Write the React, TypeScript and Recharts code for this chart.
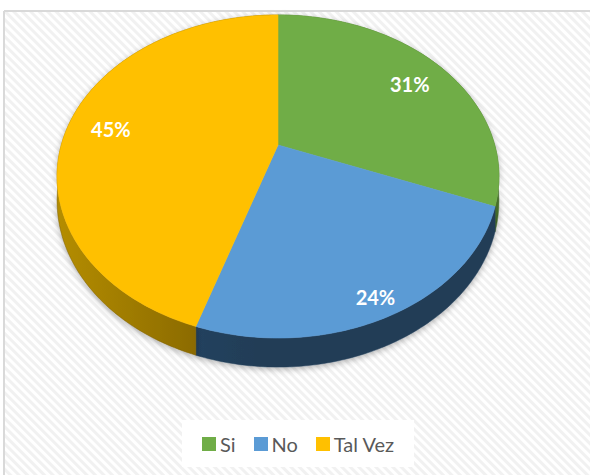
import React from 'react';
import { PieChart, Pie, Legend } from 'recharts';

const categories = ['Si', 'No', 'Tal Vez'];
const values = [31, 24, 45];
const topColors = ['#70ad47', '#5b9bd5', '#ffc000'];
// [light, dark] for the rim of each slice
const sideColors = [
    ['#5a8a3a', '#466e2c'],
    ['#2c4d6e', '#213d57'],
    ['#b38c00', '#7a5c00'],
];

const data = categories.map((name, i) => ({ name, value: values[i] }));

const W = 590;
const H = 475;
const CX = 278;
const CY = 145;
const R = 216.7;
const TILT = 0.717; // vertical squash of the disc
const PERSP = -0.195; // near side gets bigger
const DEPTH = 0.108; // rim thickness relative to radius
const FONT = 'Lato, "Noto Sans", sans-serif';

function project(cx: number, cy: number, r: number, angleDeg: number, frac = 1) {
    const a = (angleDeg * Math.PI) / 180;
    const u = Math.cos(a) * frac;
    const v = -Math.sin(a) * frac;
    const d = 1 + PERSP * v;
    return { x: cx + (r * u) / d, y: cy + (r * TILT * v) / d, h: (r * DEPTH) / d, v };
}

function arcPoints(cx: number, cy: number, r: number, start: number, end: number) {
    const n = Math.max(2, Math.ceil(Math.abs(end - start)));
    const pts = [];
    for (let i = 0; i <= n; i++) {
        pts.push(project(cx, cy, r, start + ((end - start) * i) / n));
    }
    return pts;
}

function sliceIndex(props: any) {
    const name = props.payload?.name ?? props.name;
    return Math.max(0, categories.indexOf(name));
}

function SideShape(props: any) {
    const { cx, cy, outerRadius, startAngle, endAngle } = props;
    const i = sliceIndex(props);
    const pts = arcPoints(cx, cy, outerRadius, startAngle, endAngle);
    const top = pts.map((p) => `${p.x},${p.y}`).join(' L');
    const bottom = pts
        .slice()
        .reverse()
        .map((p) => `${p.x},${p.y + p.h}`)
        .join(' L');
    const d = `M${top} L${bottom} Z`;
    const gid = `side-grad-${i}`;
    const fid = `side-shadow-${i}`;
    return (
        <g>
            <defs>
                <linearGradient id={gid} gradientUnits="userSpaceOnUse" x1={cx - outerRadius} y1={0} x2={cx + outerRadius} y2={0}>
                    <stop offset="0" stopColor={sideColors[i][0]} />
                    <stop offset="0.45" stopColor={sideColors[i][1]} />
                    <stop offset="1" stopColor={sideColors[i][1]} />
                </linearGradient>
                <filter id={fid} x="-20%" y="-20%" width="140%" height="160%">
                    <feDropShadow dx="0" dy="2" stdDeviation="3" floodColor="#000" floodOpacity="0.3" />
                </filter>
            </defs>
            <path d={d} fill={`url(#${gid})`} stroke={sideColors[i][1]} strokeWidth={0.5} filter={`url(#${fid})`} />
        </g>
    );
}

function TopShape(props: any) {
    const { cx, cy, outerRadius, startAngle, endAngle } = props;
    const i = sliceIndex(props);
    const pts = arcPoints(cx, cy, outerRadius, startAngle, endAngle);
    const d = `M${cx},${cy} ` + pts.map((p) => `L${p.x},${p.y}`).join(' ') + ' Z';
    return <path d={d} fill={topColors[i]} stroke={topColors[i]} strokeWidth={0.6} />;
}

const renderLabel = (props: any) => {
    const { cx, cy, outerRadius, midAngle, percent } = props;
    const vMid = -Math.sin((midAngle * Math.PI) / 180);
    const frac = 0.8 + 0.1 * Math.max(0, vMid);
    const p = project(cx, cy, outerRadius, midAngle, frac);
    return (
        <text
            x={p.x}
            y={p.y + 3}
            textAnchor="middle"
            dominantBaseline="central"
            fill="#ffffff"
            fontFamily={FONT}
            fontWeight="bold"
            fontSize={20}
        >
            {`${Math.round(percent * 100)}%`}
        </text>
    );
};

const renderLegend = (props: any) => {
    const { payload = [] } = props;
    // both pies report entries; keep one per category, in category order
    const names = categories.filter((c) => payload.length === 0 || payload.some((e: any) => e.value === c));
    return (
        <div
            style={{
                background: '#ffffff',
                width: 232,
                height: 47,
                display: 'flex',
                alignItems: 'center',
                justifyContent: 'center',
                fontFamily: FONT,
                fontSize: 20,
                color: '#595959',
                whiteSpace: 'nowrap',
            }}
        >
            {names.map((name, i) => (
                <span key={name} style={{ display: 'inline-flex', alignItems: 'center', marginLeft: i ? 18 : 0 }}>
                    <span
                        style={{
                            display: 'inline-block',
                            width: 14,
                            height: 14,
                            marginRight: 4,
                            background: topColors[categories.indexOf(name)],
                        }}
                    />
                    {name}
                </span>
            ))}
        </div>
    );
};

export default function App() {
    return (
        <div style={{ position: 'absolute', left: 0, top: 0, width: W, height: H, overflow: 'hidden', background: '#fff' }}>
            <svg width={W} height={H} style={{ position: 'absolute', left: 0, top: 0 }}>
                <defs>
                    <pattern id="hatch" width="6" height="6" patternUnits="userSpaceOnUse" patternTransform="rotate(-45)">
                        <rect width="6" height="6" fill="#ffffff" />
                        <rect width="3" height="6" fill="#f1f1f1" />
                    </pattern>
                </defs>
                <rect x={4} y={11} width={W} height={H} fill="url(#hatch)" />
                <line x1={4} y1={11} x2={W} y2={11} stroke="#d9d9d9" strokeWidth={2} />
                <line x1={4} y1={11} x2={4} y2={H} stroke="#d9d9d9" strokeWidth={2} />
            </svg>
            <div style={{ position: 'absolute', left: 0, top: 0 }}>
                <PieChart width={W} height={H} margin={{ top: 0, right: 0, bottom: 0, left: 0 }}>
                    <Pie
                        data={data}
                        dataKey="value"
                        nameKey="name"
                        cx={CX}
                        cy={CY}
                        outerRadius={R}
                        startAngle={90}
                        endAngle={-270}
                        stroke="none"
                        legendType="none"
                        shape={SideShape}
                        isAnimationActive={false}
                    />
                    <Pie
                        data={data}
                        dataKey="value"
                        nameKey="name"
                        cx={CX}
                        cy={CY}
                        outerRadius={R}
                        startAngle={90}
                        endAngle={-270}
                        stroke="none"
                        legendType="square"
                        shape={TopShape}
                        label={renderLabel}
                        labelLine={false}
                        isAnimationActive={false}
                    />
                    <Legend
                        content={renderLegend}
                        wrapperStyle={{ top: 420, left: 182, bottom: undefined, right: undefined, width: 232 }}
                    />
                </PieChart>
            </div>
        </div>
    );
}
